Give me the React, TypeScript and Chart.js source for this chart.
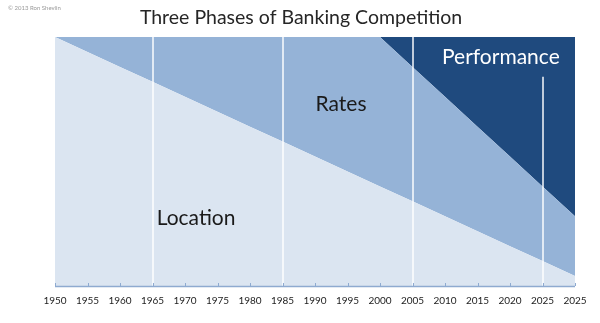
import React, { useEffect, useRef } from 'react';
import { Chart, registerables } from 'chart.js';

Chart.register(...registerables);

// Category labels (the last period is shown twice on the axis)
const years = [
  '1950', '1955', '1960', '1965', '1970', '1975', '1980', '1985', '1990',
  '1995', '2000', '2005', '2010', '2015', '2020', '2025', '2025',
];

// Share of competition by phase (stacked to 100)
const locationShare = [100, 94, 88, 82, 76, 70, 64, 58, 52, 46, 40, 34, 28, 22, 16, 10, 4];
const ratesShare = [0, 6, 12, 18, 24, 30, 36, 42, 48, 54, 60, 54, 48, 42, 36, 30, 24];
const performanceShare = [0, 0, 0, 0, 0, 0, 0, 0, 0, 0, 0, 12, 24, 36, 48, 60, 72];

const phaseNames = ['Location', 'Rates', 'Performance'];
const phaseColors = ['#dbe5f1', '#95b3d7', '#1f4a7e'];

// Era separators (category indexes) and where each line starts (value)
const eraLines = [3, 7, 11, 15];
const eraLineTop = [100, 100, 100, 84];

// Label anchors in data space: [category index, value]
const phaseLabelAt: [number, number][] = [
  [4.34, 27.3],
  [8.8, 73],
  [13.72, 92],
];

const FONT = 'Lato, "Open Sans", sans-serif';

const overlay = {
  id: 'overlay',
  afterDatasetsDraw(chart: any) {
    const { ctx, chartArea, scales } = chart;
    const x = scales.x;
    const y = scales.y;
    ctx.save();

    // white era separators
    ctx.strokeStyle = 'rgba(255,255,255,0.72)';
    ctx.lineWidth = 2;
    eraLines.forEach((idx, i) => {
      const px = Math.round(x.getPixelForValue(idx));
      ctx.beginPath();
      ctx.moveTo(px, y.getPixelForValue(eraLineTop[i]));
      ctx.lineTo(px, chartArea.bottom);
      ctx.stroke();
    });

    // axis baseline and inner tick marks
    ctx.strokeStyle = '#8eaad0';
    ctx.lineWidth = 1.5;
    ctx.beginPath();
    ctx.moveTo(chartArea.left, chartArea.bottom + 0.5);
    ctx.lineTo(chartArea.right, chartArea.bottom + 0.5);
    ctx.stroke();
    ctx.lineWidth = 1;
    for (let i = 0; i < years.length; i++) {
      const px = Math.round(x.getPixelForValue(i)) + 0.5;
      ctx.beginPath();
      ctx.moveTo(px, chartArea.bottom);
      ctx.lineTo(px, chartArea.bottom - 3);
      ctx.stroke();
    }

    // phase labels
    ctx.textAlign = 'center';
    ctx.textBaseline = 'middle';
    phaseLabelAt.forEach(([ci, v], i) => {
      ctx.font = `21px ${FONT}`;
      ctx.fillStyle = i === 2 ? '#ffffff' : '#1a1a1a';
      ctx.fillText(phaseNames[i], x.getPixelForValue(ci), y.getPixelForValue(v));
    });

    // title and credit
    ctx.font = `19.5px ${FONT}`;
    ctx.fillStyle = '#262626';
    ctx.fillText('Three Phases of Banking Competition', 301, 18);
    ctx.font = `6px ${FONT}`;
    ctx.fillStyle = '#9a9a9a';
    ctx.textAlign = 'left';
    ctx.fillText('\u00a9 2013 Ron Shevlin', 8, 8);
    ctx.restore();
  },
};

export default function App() {
  const canvasRef = useRef<HTMLCanvasElement | null>(null);

  useEffect(() => {
    if (!canvasRef.current) return;
    const datasets = [locationShare, ratesShare, performanceShare].map((data, i) => ({
      label: phaseNames[i],
      data,
      backgroundColor: phaseColors[i],
      borderWidth: 0,
      pointRadius: 0,
      tension: 0,
      fill: i === 0 ? 'origin' : '-1',
    }));
    const chart = new Chart(canvasRef.current, {
      type: 'line',
      data: { labels: years, datasets },
      options: {
        responsive: false,
        animation: false,
        layout: { padding: { left: 55, right: 25, top: 37, bottom: 0 } },
        plugins: {
          legend: { display: false },
          tooltip: { enabled: false },
        },
        scales: {
          x: {
            offset: false,
            grid: { display: false, drawTicks: false },
            border: { display: false },
            ticks: {
              autoSkip: false,
              maxRotation: 0,
              padding: 9,
              color: '#222222',
              font: { family: FONT, size: 10 },
            },
            afterFit(scale: any) {
              scale.height = 37;
            },
          },
          y: {
            display: false,
            stacked: true,
            min: 0,
            max: 100,
          },
        },
      },
      plugins: [overlay],
    });
    return () => chart.destroy();
  }, []);

  return (
    <div style={{ position: 'absolute', left: 0, top: 0, width: 600, height: 323, background: '#fff' }}>
      <canvas ref={canvasRef} width={600} height={323} />
    </div>
  );
}
